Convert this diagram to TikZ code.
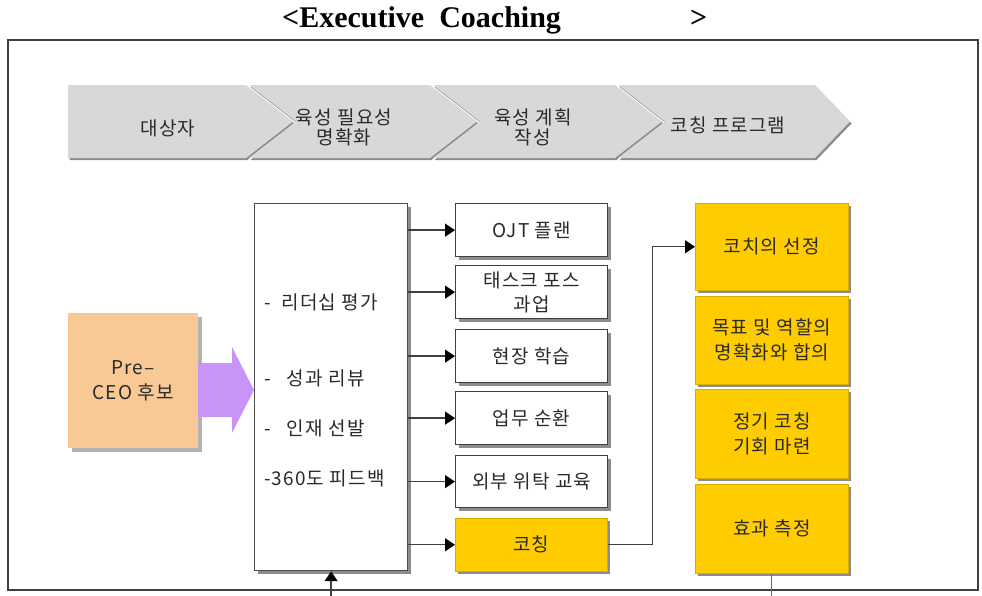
\documentclass[tikz,border=0pt]{standalone}
\usepackage{fontspec}
\setmainfont{Liberation Serif}
\newfontfamily\krfont[LetterSpace=6]{Noto Sans CJK KR}
\usetikzlibrary{shadows,arrows.meta,calc}
\definecolor{peach}{HTML}{F9C995}
\definecolor{lilac}{HTML}{C994F8}
\definecolor{gold}{HTML}{FFCC00}
\definecolor{chev}{HTML}{D8D8D8}
\definecolor{txt}{HTML}{2A2A2A}
\begin{document}
\begin{tikzpicture}[x=1pt,y=-1pt,
  shd/.style={drop shadow={shadow xshift=3pt,shadow yshift=-3pt,fill=black!45,opacity=1}},
  kr/.style={font=\krfont\fontsize{19}{25}\selectfont,text=txt},
  wbox/.style={kr,align=center,draw=black!75,line width=1.2pt,fill=white,shd,minimum width=152pt,minimum height=53pt,inner sep=0pt,anchor=north west},
  ybox/.style={kr,align=center,draw=gold!85!black,line width=0.6pt,fill=gold,shd,minimum width=153pt,inner sep=0pt,anchor=north west},
  chevron/.style={fill=chev,drop shadow={shadow xshift=1.5pt,shadow yshift=-2pt,fill=black!45,opacity=1}},
  chevtext/.style={font=\krfont\fontsize{19}{20}\selectfont,text=txt,align=center},
  conn/.style={draw=black!75,line width=1.3pt,-{Triangle[length=10pt,width=13pt,color=black]}},
  plainline/.style={draw=black!60,line width=1.3pt},
  itemtext/.style={kr,anchor=west,inner sep=0pt},
]
\useasboundingbox (0,0) rectangle (982,595);

% title
\node[anchor=base west,inner sep=0pt,font=\bfseries\fontsize{30}{30}\selectfont] (title) at (282,27) {<Executive\ \ Coaching};
\node[anchor=base west,inner sep=0pt,font=\bfseries\fontsize{30}{30}\selectfont] (titleend) at (690,27) {>};

% frame
\draw[line width=1.2pt,black!75] (8,40) rectangle (978,590);

% chevrons
\path[chevron] (68,85) -- (246,85) -- (293,121.5) -- (246,158) -- (68,158) -- cycle;
\path[chevron] (249,85) -- (430,85) -- (477,121.5) -- (430,158) -- (249,158) -- (296,121.5) -- cycle;
\path[chevron] (433,85) -- (615,85) -- (662,121.5) -- (615,158) -- (433,158) -- (480,121.5) -- cycle;
\path[chevron] (618,85) -- (815,85) -- (850,121.5) -- (815,158) -- (618,158) -- (665,121.5) -- cycle;
\node[chevtext] (c1) at (168,128) {대상자};
\node[chevtext] (c2) at (344,127) {육성 필요성\\명확화};
\node[chevtext] (c3) at (533,127) {육성 계획\\작성};
\node[chevtext] (c4) at (728,125) {코칭 프로그램};

% Pre-CEO box
\node[kr,align=center,fill=peach,drop shadow={shadow xshift=4pt,shadow yshift=-4pt,fill=black!30,opacity=1},minimum width=130pt,minimum height=135pt,inner sep=0pt,anchor=north west] (ceo) at (68,313) {Pre–\\CEO 후보};

% big box
\node[draw=black!70,line width=1.2pt,fill=white,shd,minimum width=153pt,minimum height=367pt,inner sep=0pt,anchor=north west] (big) at (254,203) {};
\node[itemtext] (i1) at (264,302) {-\ \ 리더십 평가};
\node[itemtext] (i2) at (264,378) {-\ \ \ 성과 리뷰};
\node[itemtext] (i3) at (264,428) {-\ \ \ 인재 선발};
\node[itemtext] (i4) at (264,478) {-360도 피드백};

% purple block arrow
\fill[lilac] (198,363) -- (232,363) -- (232,347) -- (254,390) -- (232,433) -- (232,417) -- (198,417) -- cycle;

% middle boxes
\node[wbox] (ojt) at (455,203) {OJT 플랜};
\node[wbox] (tf) at (455,265) {태스크 포스\\[-1pt]과업};
\node[wbox] (field) at (455,329) {현장 학습};
\node[wbox] (rot) at (455,391) {업무 순환};
\node[wbox,minimum height=52pt] (ext) at (455,455) {외부 위탁 교육};
\node[wbox,fill=gold,draw=gold!85!black,line width=0.6pt] (coach) at (455,518) {코칭};

% right boxes
\node[ybox,minimum height=87pt] (sel) at (695,203) {코치의 선정};
\node[ybox,minimum height=88pt] (goal) at (695,296) {목표 및 역할의\\명확화와 합의};
\node[ybox,minimum height=89pt] (reg) at (695,389) {정기 코칭\\기회 마련};
\node[ybox,minimum height=89pt] (eff) at (695,484) {효과 측정};

% connectors
\foreach \t in {ojt,tf,field,rot,ext,coach}
  \draw[conn] (big.east |- \t.west) -- (\t.west);
\draw[conn] (coach.east) -- ++(45,0) |- (sel.west);
\coordinate (bin) at ($(big.south)+(0,25)$);
\draw[conn] (bin) -- (big.south);
\coordinate (eout) at ($(eff.south)+(0,22)$);
\draw[plainline] (eff.south) -- (eout);
\end{tikzpicture}
\end{document}
